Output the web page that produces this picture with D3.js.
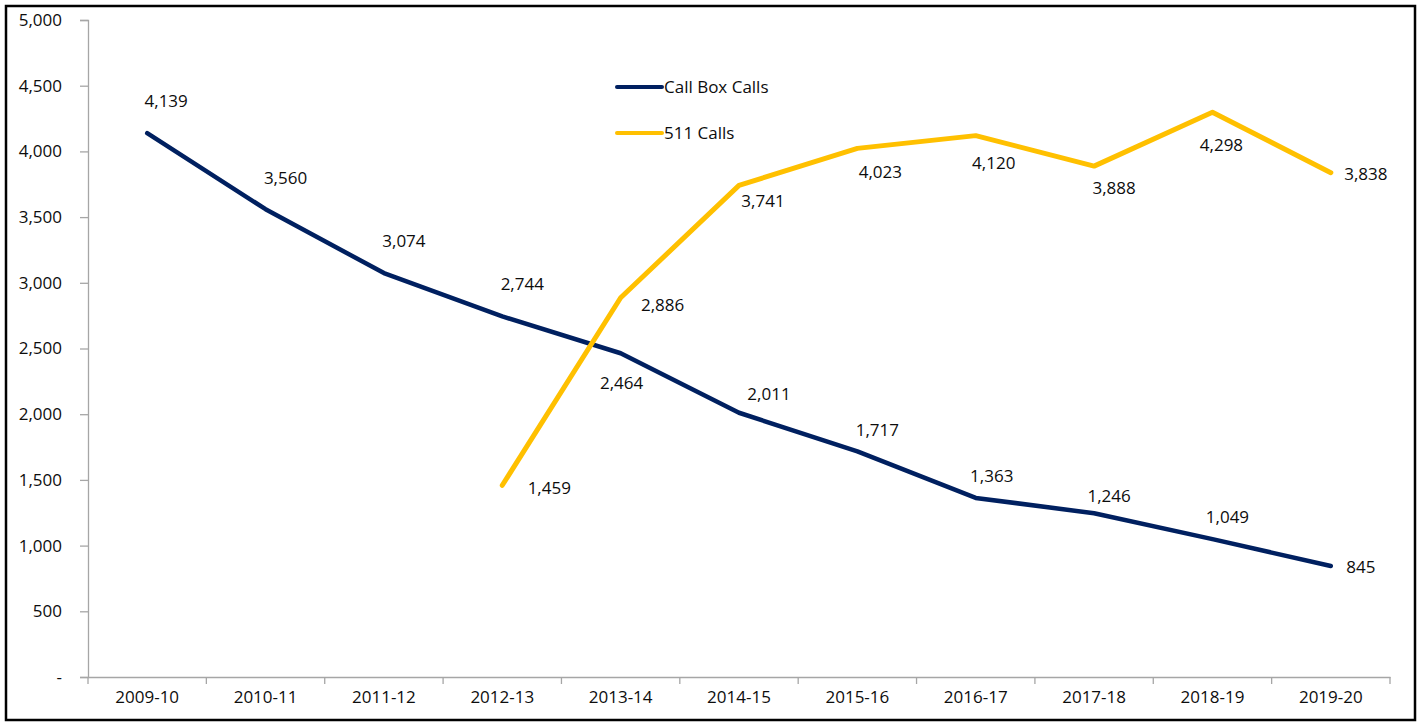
<!DOCTYPE html>
<html>
<head>
<meta charset="utf-8">
<script src="https://cdn.jsdelivr.net/npm/d3@7"></script>
<style>
  body { margin: 0; background: #fff; }
  svg { display: block; font-family: "Open Sans", "Noto Sans", sans-serif; }
</style>
</head>
<body>
<div id="chart"></div>
<script>
const years = ["2009-10", "2010-11", "2011-12", "2012-13", "2013-14", "2014-15",
               "2015-16", "2016-17", "2017-18", "2018-19", "2019-20"];
const callBoxCalls = [4139, 3560, 3074, 2744, 2464, 2011, 1717, 1363, 1246, 1049, 845];
const calls511 = [null, null, null, 1459, 2886, 3741, 4023, 4120, 3888, 4298, 3838];
const yTicks = [0, 500, 1000, 1500, 2000, 2500, 3000, 3500, 4000, 4500, 5000];

// label offsets (dx, dy from the point to the label centre)
const callBoxLabelOffsets = [[19, -32], [20, -31], [20, -32], [20, -32], [1, 30], [30, -19],
                             [20, -21], [16, -22], [15, -17], [15, -22], [30, 1]];
const calls511LabelOffsets = [null, null, null, [47, 3], [42, 7], [24, 16], [23, 24],
                              [18, 27], [20, 22], [9, 33], [35, 1]];

const width = 1422, height = 723;
const x0 = 88, x1 = 1390, yTop = 20, yBottom = 677;
const fontSize = "17px";
const textColor = "#0d0d0d";

const svg = d3.select("#chart").append("svg")
    .attr("width", width)
    .attr("height", height);

svg.append("rect")
    .attr("x", 6).attr("y", 6)
    .attr("width", 1409).attr("height", 714)
    .attr("fill", "white")
    .attr("stroke", "black")
    .attr("stroke-width", 2.5);

const x = d3.scaleBand().domain(years).range([x0, x1]);
const y = d3.scaleLinear().domain([0, 5000]).range([yBottom, yTop]);
const cx = d => x(d) + x.bandwidth() / 2;

// y axis
const yAxis = svg.append("g")
    .attr("transform", `translate(${x0},0)`)
    .call(d3.axisLeft(y).tickValues(yTicks).tickSize(8).tickPadding(18)
        .tickFormat(d => d === 0 ? "-" : d3.format(",")(d)));
yAxis.select(".domain").attr("stroke", "#a6a6a6").attr("stroke-width", 1.3);
yAxis.selectAll(".tick line").attr("stroke", "#a6a6a6").attr("stroke-width", 1.3);
yAxis.selectAll("text").attr("fill", textColor).style("font-size", fontSize)
    .style("font-family", "\"Open Sans\", sans-serif");

// x axis
const xAxis = svg.append("g")
    .attr("transform", `translate(0,${yBottom})`)
    .call(d3.axisBottom(x).tickSize(0).tickPadding(14));
xAxis.select(".domain").attr("stroke", "#a6a6a6").attr("stroke-width", 1.3);
xAxis.selectAll("text").attr("fill", textColor).style("font-size", fontSize)
    .style("font-family", "\"Open Sans\", sans-serif");
xAxis.selectAll(".sep")
    .data(d3.range(years.length + 1))
    .join("line")
    .attr("class", "sep")
    .attr("x1", i => x0 + i * x.step()).attr("x2", i => x0 + i * x.step())
    .attr("y1", 0).attr("y2", 7)
    .attr("stroke", "#a6a6a6").attr("stroke-width", 1.3);

const series = [
  { name: "Call Box Calls", values: callBoxCalls, offsets: callBoxLabelOffsets, color: "#002060", w: 4.5 },
  { name: "511 Calls", values: calls511, offsets: calls511LabelOffsets, color: "#ffc000", w: 5 }
];

const line = d3.line()
    .defined(d => d.v != null)
    .x(d => cx(d.year))
    .y(d => y(d.v));

series.forEach(s => {
  const pts = years.map((yr, i) => ({ year: yr, v: s.values[i], off: s.offsets[i] }));
  svg.append("path")
      .datum(pts)
      .attr("fill", "none")
      .attr("stroke", s.color)
      .attr("stroke-width", s.w)
      .attr("stroke-linejoin", "round")
      .attr("stroke-linecap", "round")
      .attr("d", line);

  svg.append("g").selectAll("text")
    .data(pts.filter(d => d.v != null))
    .join("text")
      .attr("x", d => cx(d.year) + d.off[0])
      .attr("y", d => y(d.v) + d.off[1])
      .attr("dy", "0.35em")
      .attr("text-anchor", "middle")
      .attr("fill", textColor)
      .style("font-size", fontSize)
      .text(d => d3.format(",")(d.v));
});

// legend
const legend = svg.append("g").attr("transform", "translate(617,87)");
series.forEach((s, i) => {
  const g = legend.append("g").attr("transform", `translate(0,${i * 46})`);
  g.append("line")
      .attr("x1", 0).attr("x2", 45)
      .attr("stroke", s.color)
      .attr("stroke-width", 4)
      .attr("stroke-linecap", "round");
  g.append("text")
      .attr("x", 47).attr("dy", "0.35em")
      .attr("fill", textColor)
      .style("font-size", fontSize)
      .text(s.name);
});
</script>
</body>
</html>
